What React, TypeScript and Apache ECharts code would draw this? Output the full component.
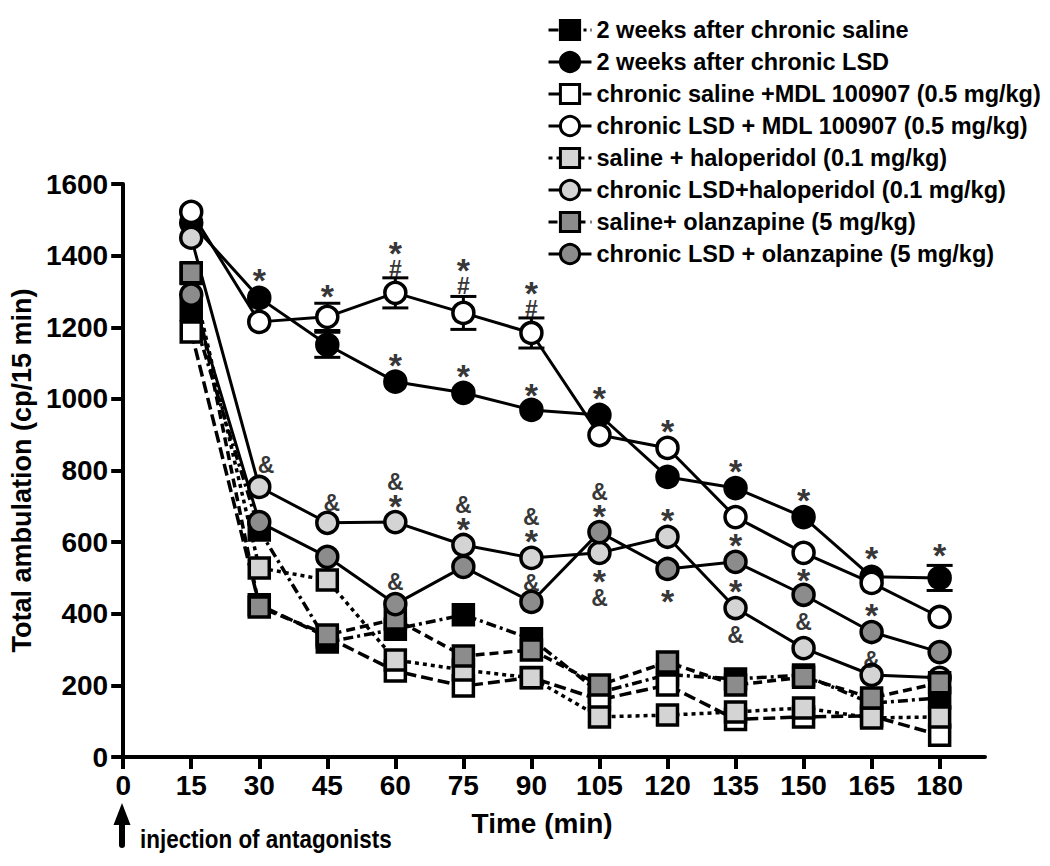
import React, { useEffect, useRef } from "react";
import * as echarts from "echarts";

const FONT = '"Liberation Sans", Arial, Helvetica, sans-serif';

const timeTicks = [0, 15, 30, 45, 60, 75, 90, 105, 120, 135, 150, 165, 180];
const times = [15, 30, 45, 60, 75, 90, 105, 120, 135, 150, 165, 180];

const seriesNames = [
  "2 weeks after chronic saline",
  "2 weeks after chronic LSD",
  "chronic saline +MDL 100907 (0.5 mg/kg)",
  "chronic LSD + MDL 100907 (0.5 mg/kg)",
  "saline + haloperidol (0.1 mg/kg)",
  "chronic LSD+haloperidol (0.1 mg/kg)",
  "saline+ olanzapine (5 mg/kg)",
  "chronic LSD + olanzapine (5 mg/kg)",
];

const salineBlack = [1249, 634, 321, 357, 397, 330, 180, 230, 218, 229, 150, 165];
const lsdBlack = [1492, 1282, 1151, 1048, 1017, 969, 955, 782, 751, 670, 503, 500];
const salineMdl = [1187, 425, 335, 240, 198, 222, 160, 201, 105, 112, 115, 61];
const lsdMdl = [1522, 1215, 1229, 1296, 1240, 1184, 899, 863, 670, 570, 486, 391];
const salineHalo = [1350, 528, 494, 271, 243, 221, 112, 117, 126, 137, 109, 112];
const lsdHalo = [1450, 754, 654, 656, 592, 556, 570, 615, 416, 304, 229, 221];
const salineOlan = [1352, 419, 341, 385, 282, 299, 201, 265, 201, 223, 165, 207];
const lsdOlan = [1291, 656, 559, 427, 531, 433, 628, 525, 545, 453, 349, 293];

// error bars (mean ± SEM)
const errX = [45, 60, 75, 90, 45, 180];
const errMean = [1229, 1296, 1240, 1184, 1151, 500];
const errSem = [38, 42, 46, 42, 35, 35];

// significance marks: x, value at the centre of the top glyph, text (stacked marks joined by \n)
const annX = [
  30, 60, 75, 90, 105, 135, 150, 165, 180,
  45, 60, 75, 90, 120,
  31.5, 46, 60, 75, 90, 105, 105, 120, 120, 135, 135, 135, 150, 150, 165, 165, 60, 90,
];
const annY = [
  1341, 1103, 1073, 1020, 1011, 807, 726, 564, 573,
  1296, 1416, 1369, 1304, 919,
  816, 709, 768, 704, 670, 740, 500, 670, 444, 601, 472, 341, 503, 377, 405, 271, 489, 486,
];
const annText = [
  "*", "*", "*", "*", "*", "*", "*", "*", "*",
  "*", "*\n#", "*\n#", "*\n#", "*",
  "&", "&", "&\n*", "&\n*", "&\n*", "&\n*", "*\n&", "*", "*", "*", "*", "&", "*", "&", "*", "&", "&", "&",
];

const seriesValues = [salineBlack, lsdBlack, salineMdl, lsdMdl, salineHalo, lsdHalo, salineOlan, lsdOlan];
const seriesSymbols = ["rect", "circle", "rect", "circle", "rect", "circle", "rect", "circle"];
const seriesFills = ["#000000", "#000000", "#ffffff", "#ffffff", "#d4d4d4", "#d4d4d4", "#8c8c8c", "#8c8c8c"];
const seriesDash: any[] = [[10, 4, 3, 4], "solid", [12, 5], "solid", [4, 4], "solid", [9, 5], "solid"];

const STAR_SIZE = 34;
const MARK_SIZE = 23;
const STAR_SHIFT = 3; // asterisk glyph sits above its line centre
const stackGap: Record<string, number> = { "*\n#": 19, "&\n*": 21, "*\n&": 20 };

function annLabel(text: string) {
  const lines = text.split("\n");
  if (lines.length === 1) {
    return {
      offset: [0, lines[0] === "*" ? STAR_SHIFT : 0],
      rich: { s: { fontSize: STAR_SIZE, lineHeight: 30 }, a: { fontSize: MARK_SIZE, lineHeight: 26 } },
    };
  }
  const gap = stackGap[text] ?? 20;
  const shift1 = lines[0] === "*" ? -STAR_SHIFT : 0;
  const shift2 = lines[1] === "*" ? -STAR_SHIFT : 0;
  const L = gap - shift2 + shift1;
  const off = L / 2 - shift1;
  return {
    offset: [0, off],
    rich: { s: { fontSize: STAR_SIZE, lineHeight: L }, a: { fontSize: MARK_SIZE, lineHeight: L } },
  };
}

export default function App() {
  const ref = useRef<HTMLDivElement>(null);

  useEffect(() => {
    document.body.style.margin = "0";
    if (!ref.current) return;
    const chart = echarts.init(ref.current, null, { renderer: "svg" });

    const lineSeries = seriesNames.map((name, i) => ({
      name,
      type: "line",
      data: times.map((t, j) => [t, seriesValues[i][j]]),
      symbol: seriesSymbols[i],
      symbolSize: seriesSymbols[i] === "rect" ? 20 : 21,
      showSymbol: true,
      lineStyle: { color: "#000", width: seriesDash[i] === "solid" ? 3 : 3.5, type: seriesDash[i] },
      itemStyle: { color: seriesFills[i], borderColor: "#000", borderWidth: 3.5 },
      emphasis: { disabled: true },
      silent: true,
    }));

    const errData = errX.map((x, i) => [x, errMean[i] - errSem[i], errMean[i] + errSem[i]]);

    const annData = annX.map((x, i) => ({
      name: annText[i],
      value: [x, annY[i]],
      label: annLabel(annText[i]),
    }));

    const option: any = {
      animation: false,
      backgroundColor: "#ffffff",
      textStyle: { fontFamily: FONT },
      grid: { left: 122, right: 65, top: 184, bottom: 109, containLabel: false },
      legend: {
        orient: "vertical",
        left: 547,
        top: 18,
        padding: 0,
        itemWidth: 43,
        itemHeight: 24,
        itemGap: 8,
        selectedMode: false,
        data: seriesNames,
        textStyle: { fontSize: 23.5, fontWeight: "bold", color: "#000", fontFamily: FONT },
        itemStyle: { borderWidth: 3 },
        lineStyle: { width: 3 },
      },
      xAxis: {
        type: "value",
        min: 0,
        max: 190,
        interval: 15,
        name: "Time (min)",
        nameLocation: "middle",
        nameGap: 52,
        nameTextStyle: { fontSize: 28, fontWeight: "bold", color: "#000", fontFamily: FONT, padding: [0, 24, 0, 0] },
        axisLine: { show: true, onZero: true, lineStyle: { color: "#000", width: 4 } },
        axisTick: { show: true, length: 12, lineStyle: { color: "#000", width: 4 }, customValues: timeTicks },
        axisLabel: {
          customValues: timeTicks,
          fontSize: 28,
          fontWeight: "bold",
          color: "#000",
          fontFamily: FONT,
          margin: 14,
          formatter: (v: number) => String(v),
        },
        splitLine: { show: false },
      },
      yAxis: {
        type: "value",
        min: 0,
        max: 1600,
        interval: 200,
        name: "Total ambulation (cp/15 min)",
        nameLocation: "middle",
        nameGap: 84,
        nameTextStyle: { fontSize: 27, fontWeight: "bold", color: "#000", fontFamily: FONT },
        axisLine: { show: true, lineStyle: { color: "#000", width: 4 } },
        axisTick: { show: true, length: 12, lineStyle: { color: "#000", width: 4 } },
        axisLabel: {
          fontSize: 28,
          fontWeight: "bold",
          color: "#000",
          fontFamily: FONT,
          margin: 15,
          formatter: (v: number) => String(v),
        },
        splitLine: { show: false },
      },
      series: [
        {
          type: "custom",
          silent: true,
          data: errData,
          encode: { x: 0, y: [1, 2] },
          renderItem: (params: any, api: any) => {
            const x = api.value(0);
            const p1 = api.coord([x, api.value(1)]);
            const p2 = api.coord([x, api.value(2)]);
            const w = 13;
            const style = { stroke: "#000", lineWidth: 3 };
            return {
              type: "group",
              children: [
                { type: "line", shape: { x1: p1[0], y1: p1[1], x2: p2[0], y2: p2[1] }, style },
                { type: "line", shape: { x1: p1[0] - w, y1: p1[1], x2: p1[0] + w, y2: p1[1] }, style },
                { type: "line", shape: { x1: p2[0] - w, y1: p2[1], x2: p2[0] + w, y2: p2[1] }, style },
              ],
            };
          },
        },
        ...lineSeries,
        {
          type: "scatter",
          silent: true,
          symbolSize: 1,
          itemStyle: { color: "rgba(0,0,0,0)" },
          data: annData,
          z: 10,
          label: {
            show: true,
            position: "inside",
            color: "#000",
            fontFamily: FONT,
            fontWeight: "bold",
            formatter: (p: any) =>
              String(p.name)
                .split("\n")
                .map((ln: string) => (ln === "*" ? "{s|*}" : `{a|${ln}}`))
                .join("\n"),
            rich: {
              s: { fontSize: STAR_SIZE, fontWeight: "bold", color: "#000", fontFamily: FONT },
              a: { fontSize: MARK_SIZE, fontWeight: "bold", color: "#000", fontFamily: FONT },
            },
          },
        },
      ],
      graphic: [
        {
          type: "polygon",
          shape: { points: [[122, 803], [113.5, 825], [130.5, 825]] },
          style: { fill: "#000" },
        },
        {
          type: "line",
          shape: { x1: 122, y1: 820, x2: 122, y2: 845 },
          style: { stroke: "#000", lineWidth: 6, lineCap: "round" },
        },
        {
          type: "text",
          x: 140,
          y: 839,
          scaleX: 0.88,
          style: {
            text: "injection of antagonists",
            font: `bold 25.5px ${FONT}`,
            fill: "#000",
            textAlign: "left",
            textVerticalAlign: "middle",
          },
        },
      ],
    };

    chart.setOption(option);
    return () => chart.dispose();
  }, []);

  return (
    <div
      ref={ref}
      style={{ position: "absolute", left: 0, top: 0, width: 1050, height: 866, background: "#fff" }}
    />
  );
}
